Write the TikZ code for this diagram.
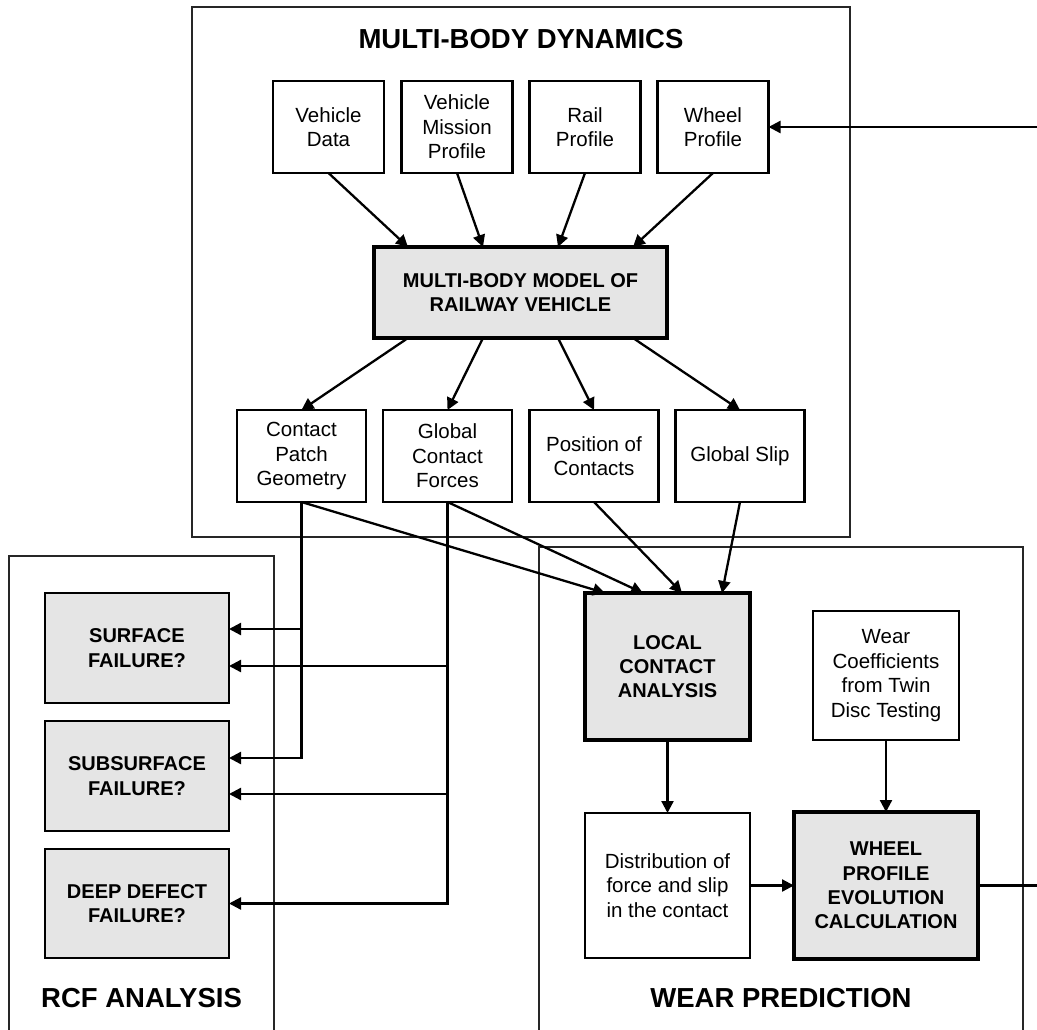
\documentclass[tikz,border=0pt]{standalone}
\usepackage{fontspec}
\setmainfont{Liberation Sans}
\usetikzlibrary{arrows.meta,calc}
\begin{document}
\begin{tikzpicture}[x=1pt,y=-1pt,
  box/.style={draw, fill=white, line width=2.3pt, align=center, inner sep=0pt, outer sep=0pt, font=\fontsize{20.5}{24.5}\selectfont},
  greybox/.style={box, fill=black!10, font=\fontsize{20}{24.3}\selectfont\bfseries},
  keybox/.style={greybox, line width=4.5pt},
  topbox/.style={box, minimum width=111pt, minimum height=92pt},
  midbox/.style={box, minimum width=129pt, minimum height=92pt},
  rcfbox/.style={greybox, minimum width=184pt, minimum height=110pt},
  frame/.style={draw=black!85, line width=1.3pt},
  ttl/.style={font=\fontsize{27.5}{30}\selectfont\bfseries, inner sep=0pt},
  conn/.style={line width=2.3pt},
  arr/.style={conn, -{Triangle[length=12pt,width=12pt]}},
]
\clip (0,0) rectangle (1037,1030);
\fill[white] (0,0) rectangle (1037,1030);

% frames
\draw[frame] (192,7) rectangle (850,537);
\draw[frame] (9,556) rectangle (274,1045);
\draw[frame] (539,547) rectangle (1023,1045);
\node[ttl] (tmbd) at (521,39) {MULTI-BODY DYNAMICS};
\node[ttl] (trcf) at (141.5,998) {RCF ANALYSIS};
\node[ttl] (twear) at (781,998) {WEAR PREDICTION};

% top inputs
\node[topbox] (vd) at (328.5,127) {Vehicle\\Data};
\node[topbox] (vmp) at (457,127) {Vehicle\\Mission\\Profile};
\node[topbox] (rp) at (585,127) {Rail\\Profile};
\node[topbox] (wp) at (713,127) {Wheel\\Profile};

% model
\node[keybox, minimum width=293pt, minimum height=91pt] (model) at (520.5,292.5) {MULTI-BODY MODEL OF\\RAILWAY VEHICLE};

% outputs
\node[midbox] (cpg) at (301.5,456) {Contact\\Patch\\Geometry};
\node[midbox] (gcf) at (447.5,456) {Global\\Contact\\Forces};
\node[midbox] (poc) at (594,456) {Position of\\Contacts};
\node[midbox] (gs) at (740,456) {Global Slip};

% wear prediction
\node[keybox, minimum width=165pt, minimum height=147pt] (lca) at (667.5,666.5) {LOCAL\\CONTACT\\ANALYSIS};
\node[box, minimum width=146pt, minimum height=129pt] (wc) at (886,675.5) {Wear\\Coefficients\\from Twin\\Disc Testing};
\node[box, minimum width=165pt, minimum height=145pt] (dist) at (667.5,885.5) {Distribution of\\force and slip\\in the contact};
\node[keybox, minimum width=184pt, minimum height=147pt] (wpec) at (886,885.5) {WHEEL\\PROFILE\\EVOLUTION\\CALCULATION};

% RCF
\node[rcfbox] (sf) at (137,648) {SURFACE\\FAILURE?};
\node[rcfbox] (ssf) at (137,776) {SUBSURFACE\\FAILURE?};
\node[rcfbox, minimum height=109pt] (ddf) at (137,903.5) {DEEP DEFECT\\FAILURE?};

% free ends at the picture's right edge
\coordinate (fbin) at (1045,127);
\coordinate (fbout) at (1045,885.5);

% inputs to model
\draw[arr] (vd.south) -- ($(model.north)+(-112.5,0)$);
\draw[arr] (vmp.south) -- ($(model.north)+(-37.5,0)$);
\draw[arr] (rp.south) -- ($(model.north)+(37.5,0)$);
\draw[arr] (wp.south) -- ($(model.north)+(112.5,0)$);
\draw[arr] (fbin) -- (wp.east);

% model to outputs
\draw[arr] ($(model.south)+(-112.5,0)$) -- (cpg.north);
\draw[arr] ($(model.south)+(-37.5,0)$) -- (gcf.north);
\draw[arr] ($(model.south)+(37.5,0)$) -- (poc.north);
\draw[arr] ($(model.south)+(112.5,0)$) -- (gs.north);

% outputs to local contact analysis
\draw[arr] (cpg.south) -- ($(lca.north)+(-62.5,0)$);
\draw[arr] (gcf.south) -- ($(lca.north)+(-24.5,0)$);
\draw[arr] (poc.south) -- ($(lca.north)+(14.5,0)$);
\draw[arr] (gs.south) -- ($(lca.north)+(54.5,0)$);

% wear chain
\draw[arr] (lca.south) -- (dist.north);
\draw[arr] (wc.south) -- (wpec.north);
\draw[arr] (dist.east) -- (wpec.west);
\draw[conn] (wpec.east) -- (fbout);

% RCF connections
\coordinate (sfa) at ($(sf.east)+(0,-19)$);
\coordinate (sfb) at ($(sf.east)+(0,18)$);
\coordinate (ssfa) at ($(ssf.east)+(0,-18)$);
\coordinate (ssfb) at ($(ssf.east)+(0,18)$);
\draw[arr] (cpg.south) |- (ssfa);
\draw[arr] (sfa -| cpg.south) -- (sfa);
\draw[arr] (gcf.south) |- (ddf.east);
\draw[arr] (sfb -| gcf.south) -- (sfb);
\draw[arr] (ssfb -| gcf.south) -- (ssfb);
\end{tikzpicture}
\end{document}
